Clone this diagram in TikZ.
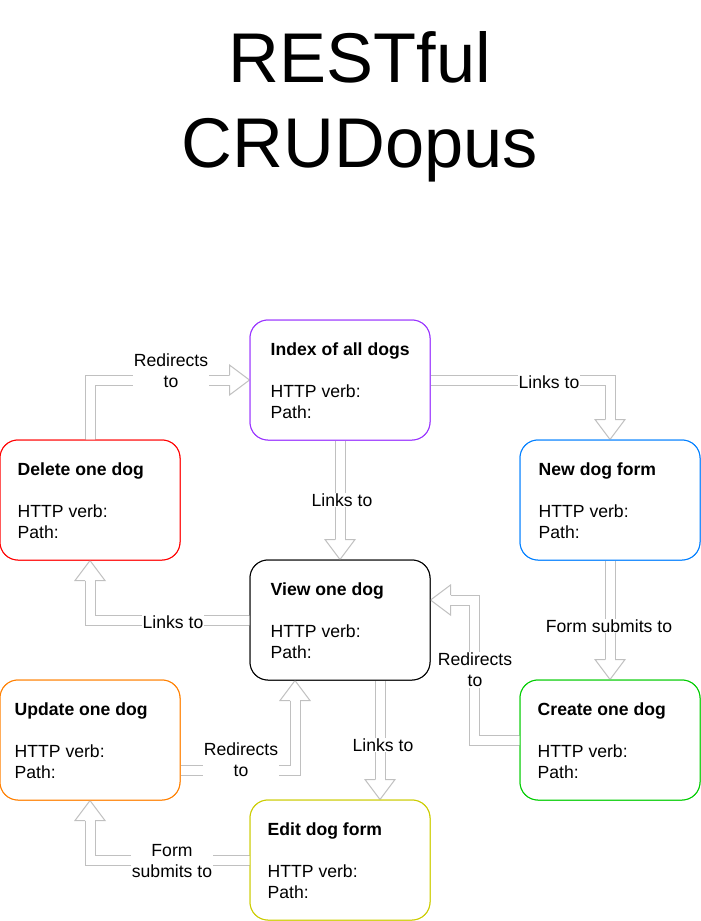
\documentclass[tikz,border=0pt]{standalone}
\usepackage{fontspec}
\setmainfont{Liberation Sans}
\usetikzlibrary{calc}
\definecolor{arrowgray}{HTML}{C0C0C0}
\definecolor{indexcol}{HTML}{9933FF}
\definecolor{deletecol}{HTML}{FF0000}
\definecolor{newcol}{HTML}{007FFF}
\definecolor{createcol}{HTML}{00CC00}
\definecolor{updatecol}{HTML}{FF8000}
\definecolor{editcol}{HTML}{CCCC00}
\tikzset{
  route box/.style={
    draw=#1,
    fill=white,
    line width=1pt,
    rounded corners=18pt,
    minimum width=180pt,
    minimum height=120pt,
    inner sep=0pt
  },
  route text/.style={
    anchor=base west,
    align=left,
    inner sep=0pt,
    font=\fontsize{17.6pt}{21pt}\selectfont
  },
  shaft/.style={
    draw=arrowgray,
    line width=11pt,
    postaction={draw=white, line width=9pt}
  },
  link label/.style={
    fill=white,
    align=center,
    inner sep=1pt,
    font=\fontsize{17.6pt}{21pt}\selectfont
  },
  blockhead/.pic={
    \filldraw[fill=white, draw=arrowgray, line width=1pt]
      (-20,5) -- (-20,15) -- (0,0) -- (-20,-15) -- (-20,-5);
  }
}

\begin{document}
\begin{tikzpicture}[x=1pt, y=-1pt]
    \useasboundingbox (0,0) rectangle (701,921);

    % 标题
    \node[align=center, font=\fontsize{70.4pt}{85pt}\selectfont] (title) at (360,107) {RESTful\\CRUDopus};

    % 路由框位置
    \coordinate (indexPos) at (340,380);
    \coordinate (deletePos) at (90,500);
    \coordinate (newPos) at (610,500);
    \coordinate (viewPos) at (340,620);
    \coordinate (updatePos) at (90,740);
    \coordinate (createPos) at (610,740);
    \coordinate (editPos) at (340,860);

    % 框 (先放空框, 箭头之后再盖上)
    \path (indexPos) node[route box=indexcol] (index) {}
          (deletePos) node[route box=deletecol] (delete) {}
          (newPos) node[route box=newcol] (newform) {}
          (viewPos) node[route box=black] (view) {}
          (updatePos) node[route box=updatecol] (update) {}
          (createPos) node[route box=createcol] (create) {}
          (editPos) node[route box=editcol] (edit) {};

    % 空心箭头
    \draw[shaft] (delete.north) |- ([xshift=-20pt]index.west);
    \draw[shaft] (index.east) -| ([yshift=20pt]newform.north);
    \draw[shaft] (index.south) -- ([yshift=20pt]view.north);
    \draw[shaft] (newform.south) -- ([yshift=20pt]create.north);
    \draw[shaft] (create.west) -- ++(-45,0) |- ([xshift=20pt, yshift=20pt]view.east);
    \draw[shaft] (view.west) -| ([yshift=-20pt]delete.south);
    \draw[shaft] ([yshift=-30pt]update.east) -| ([xshift=-45pt, yshift=-20pt]view.south);
    \draw[shaft] ([xshift=40pt]view.south) -- ([xshift=40pt, yshift=20pt]edit.north);
    \draw[shaft] (edit.west) -| ([yshift=-20pt]update.south);

    % 箭头头部
    \pic at (index.west) {blockhead};
    \pic[rotate=-90] at (newform.north) {blockhead};
    \pic[rotate=-90] at (view.north) {blockhead};
    \pic[rotate=-90] at (create.north) {blockhead};
    \pic[rotate=180] at ([yshift=20pt]view.east) {blockhead};
    \pic[rotate=90] at (delete.south) {blockhead};
    \pic[rotate=90] at ([xshift=-45pt]view.south) {blockhead};
    \pic[rotate=-90] at ([xshift=40pt]edit.north) {blockhead};
    \pic[rotate=90] at (update.south) {blockhead};

    % 重画框
    \path (indexPos) node[route box=indexcol] {}
          (deletePos) node[route box=deletecol] {}
          (newPos) node[route box=newcol] {}
          (viewPos) node[route box=black] {}
          (updatePos) node[route box=updatecol] {}
          (createPos) node[route box=createcol] {}
          (editPos) node[route box=editcol] {};

    % 框内文字 (基线取最后一行)
    \node[route text] (indexTxt) at ([xshift=21pt, yshift=-99pt]index.north west)
      {\textbf{Index of all dogs}\\[21pt]HTTP verb:\\Path:};
    \node[route text] (deleteTxt) at ([xshift=18pt, yshift=-99pt]delete.north west)
      {\textbf{Delete one dog}\\[21pt]HTTP verb:\\Path:};
    \node[route text] (newTxt) at ([xshift=19pt, yshift=-99pt]newform.north west)
      {\textbf{New dog form}\\[21pt]HTTP verb:\\Path:};
    \node[route text] (viewTxt) at ([xshift=21pt, yshift=-99pt]view.north west)
      {\textbf{View one dog}\\[21pt]HTTP verb:\\Path:};
    \node[route text] (updateTxt) at ([xshift=15pt, yshift=-99pt]update.north west)
      {\textbf{Update one dog}\\[21pt]HTTP verb:\\Path:};
    \node[route text] (createTxt) at ([xshift=18pt, yshift=-99pt]create.north west)
      {\textbf{Create one dog}\\[21pt]HTTP verb:\\Path:};
    \node[route text] (editTxt) at ([xshift=18pt, yshift=-99pt]edit.north west)
      {\textbf{Edit dog form}\\[21pt]HTTP verb:\\Path:};

    % 箭头标签
    \node[link label] (redirIndex) at (171,371) {Redirects\\to};
    \node[link label] (linksNew) at (549,382) {Links to};
    \node[link label] (linksView) at (342,500) {Links to};
    \node[link label] (submitCreate) at (609,626) {Form submits to};
    \node[link label] (redirView) at (475,670) {Redirects\\to};
    \node[link label] (linksDelete) at (173,622) {Links to};
    \node[link label] (redirUpdate) at (241,760) {Redirects\\to};
    \node[link label] (linksEdit) at (383,745) {Links to};
    \node[link label] (submitUpdate) at (172,861) {Form\\submits to};

\end{tikzpicture}
\end{document}
